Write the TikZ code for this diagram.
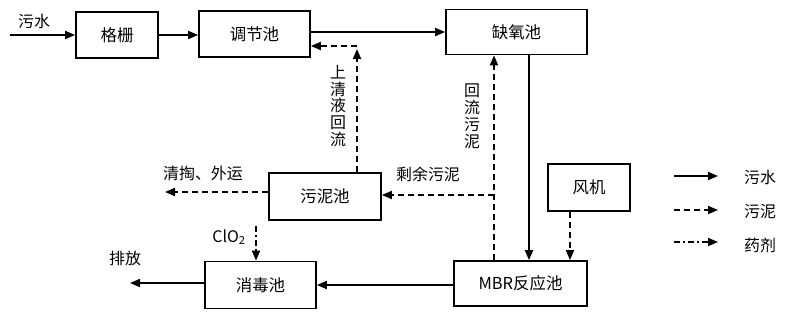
\documentclass[tikz,border=0pt]{standalone}
\usepackage{fontspec}
\setmainfont{Noto Sans CJK SC}
\usetikzlibrary{arrows.meta, positioning, calc}

\begin{document}
\begin{tikzpicture}[x=1bp, y=-1bp,
    tank/.style={draw, line width=1.7bp, minimum height=46bp, inner sep=0pt, font=\fontsize{16.5}{17}\selectfont},
    lbl/.style={inner sep=0pt, font=\fontsize{16}{17}\selectfont},
    vlbl/.style={lbl, align=center},
    flow/.style={line width=1.8bp, -{Triangle[length=10bp, width=8bp]}},
    sludge/.style={flow, dash pattern=on 6bp off 4bp},
    dose/.style={flow, dash pattern=on 6bp off 3bp on 2bp off 3bp}]
  \useasboundingbox (0,0) rectangle (800,328);

  % process tanks
  \node[tank, minimum width=82bp] (gs) at (117,35) {格栅};
  \node[tank, minimum width=111bp] (tj) at (254.5,34) {调节池};
  \node[tank, minimum width=141bp, minimum height=45bp] (qy) at (516.5,32) {缺氧池};
  \node[tank, minimum width=112bp, minimum height=47bp] (wn) at (325,196.5) {污泥池};
  \node[tank, minimum width=111bp, minimum height=47bp] (xd) at (260.5,285) {消毒池};
  \node[tank, minimum width=133bp, minimum height=45bp] (mbr) at (520.5,283.5) {MBR反应池};
  \node[tank, minimum width=82bp, minimum height=47bp] (fj) at (589,187.5) {风机};

  % helper points
  \coordinate (in) at (10,35);
  \coordinate (r1) at (357,46);
  \coordinate (r2) at (357,49);
  \coordinate (c1) at (529,0);
  \coordinate (c2) at (494,0);
  \coordinate (c3) at (570,0);
  \coordinate (j) at (494,195);
  \coordinate (o1) at (165,192);
  \coordinate (o2) at (130,283);
  \coordinate (cl) at (256,226);

  % water line
  \draw[flow] (in) -- (gs.west);
  \node[lbl] (in label) at (34,21) {污水};
  \draw[flow] (gs.east) -- (gs.east -| tj.west);
  \draw[flow] (tj.east |- qy.west) -- (qy.west);
  \draw[flow] (qy.south -| c1) -- (mbr.north -| c1);
  \draw[flow] (mbr.west |- xd.east) -- (xd.east);
  \draw[flow] (xd.west |- o2) -- (o2);
  \node[lbl] (out label) at (125,258) {排放};

  % sludge lines
  \draw[sludge] (r1) -- (tj.east |- r1);
  \draw[sludge] (wn.north -| r2) -- (r2);
  \node[vlbl] (sup label) at (338,106) {上\\清\\液\\回\\流};
  \draw[sludge] (mbr.north -| c2) -- (qy.south -| c2);
  \node[vlbl] (ret label) at (472,116) {回\\流\\污\\泥};
  \draw[sludge] (j) -- (wn.east |- j);
  \node[lbl] (res label) at (428,174) {剩余污泥};
  \draw[sludge] (wn.west |- o1) -- (o1);
  \node[lbl] (dis label) at (203,173) {清掏、外运};
  \draw[sludge] (fj.south -| c3) -- (mbr.north -| c3);

  % dosing
  \draw[dose] (cl) -- (xd.north -| cl);
  \node[lbl] (clo label) at (229,237) {ClO\textsubscript{2}};

  % legend
  \coordinate (la) at (674,176);
  \coordinate (lb) at (674,210);
  \coordinate (lc) at (674,242);
  \draw[flow] (la) -- ++(44,0);
  \draw[sludge] (lb) -- ++(44,0);
  \draw[dose] (lc) -- ++(44,0);
  \node[lbl] (leg water) at (760,177) {污水};
  \node[lbl] (leg sludge) at (760,212) {污泥};
  \node[lbl] (leg dose) at (760,245) {药剂};
\end{tikzpicture}
\end{document}
